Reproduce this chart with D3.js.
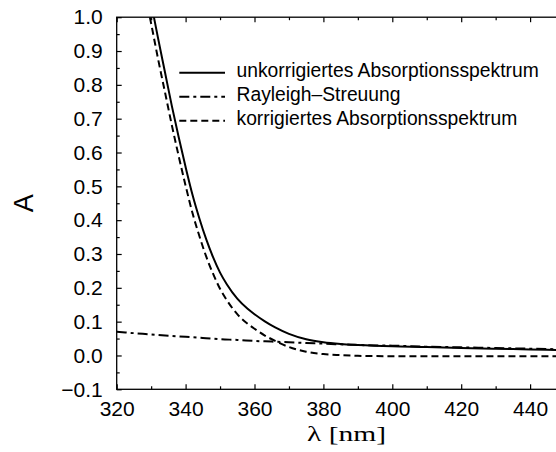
<!DOCTYPE html>
<html>
<head>
<meta charset="utf-8">
<script src="https://cdn.jsdelivr.net/npm/d3@7/dist/d3.min.js"></script>
<style>
  html, body { margin: 0; padding: 0; background: #fff; }
  svg { display: block; }
</style>
</head>
<body>
<svg id="chart" width="556" height="452"></svg>
<script>
// ---- data ----
const wavelengths = [329, 330, 331, 332, 334, 336, 338, 340, 342, 344, 346, 348, 350, 352, 355, 358, 360, 363, 366, 370, 375, 380, 385, 390, 400, 410, 420, 430, 440, 450];
const uncorrected = [1.095, 1.043, 0.990, 0.938, 0.838, 0.738, 0.645, 0.557, 0.475, 0.405, 0.343, 0.290, 0.245, 0.210, 0.168, 0.138, 0.122, 0.101, 0.083, 0.064, 0.048, 0.039, 0.034, 0.031, 0.027, 0.025, 0.022, 0.020, 0.018, 0.016];
const corrected = [1.032, 0.981, 0.929, 0.877, 0.779, 0.681, 0.589, 0.502, 0.421, 0.353, 0.292, 0.241, 0.197, 0.163, 0.122, 0.094, 0.079, 0.059, 0.043, 0.025, 0.011, 0.004, 0.001, -0.001, -0.002, -0.002, -0.002, -0.002, -0.002, -0.002];
const rayleighWavelengths = [320, 325, 330, 335, 340, 345, 350, 355, 360, 365, 370, 375, 380, 390, 400, 410, 420, 430, 440, 450];
const rayleigh = [0.070, 0.066, 0.062, 0.058, 0.055, 0.052, 0.048, 0.046, 0.043, 0.041, 0.039, 0.037, 0.035, 0.031, 0.029, 0.026, 0.024, 0.022, 0.020, 0.018];

const xMajorTicks = [320, 340, 360, 380, 400, 420, 440];
const xMinorTicks = [330, 350, 370, 390, 410, 430, 450];
const yMajorTicks = [-0.1, 0.0, 0.1, 0.2, 0.3, 0.4, 0.5, 0.6, 0.7, 0.8, 0.9, 1.0];
const yMinorTicks = [-0.05, 0.05, 0.15, 0.25, 0.35, 0.45, 0.55, 0.65, 0.75, 0.85, 0.95];

const seriesNames = ["unkorrigiertes Absorptionsspektrum", "Rayleigh\u2013Streuung", "korrigiertes Absorptionsspektrum"];
const xLabel = "\u03bb [nm]";
const yLabel = "A";

// ---- layout ----
const svg = d3.select("#chart");
const plotLeft = 116.7, plotTop = 17.2, plotBottom = 389.3;
const x = d3.scaleLinear().domain([320, 450]).range([plotLeft, plotLeft + 130 * 3.445]);
const y = d3.scaleLinear().domain([-0.1, 1.0]).range([plotBottom, plotTop]);
const plotRight = x(450);

const tickFont = "'Liberation Sans', Arial, Helvetica, sans-serif";

svg.append("defs").append("clipPath").attr("id", "plotclip")
  .append("rect").attr("x", plotLeft).attr("y", plotTop).attr("width", plotRight - plotLeft).attr("height", plotBottom - plotTop);

function styleAxis(g) {
  g.select(".domain").remove();
  g.selectAll(".tick line").attr("stroke", "#000").attr("stroke-width", 1.2);
  g.selectAll("text").attr("fill", "#000").style("font-family", tickFont).style("font-size", "21px");
}

// bottom axis
svg.append("g").attr("transform", `translate(0,${plotBottom})`)
  .call(d3.axisBottom(x).tickValues(xMajorTicks).tickSize(-5).tickPadding(12).tickFormat(d3.format("d")))
  .call(styleAxis);
svg.append("g").attr("transform", `translate(0,${plotBottom})`)
  .call(d3.axisBottom(x).tickValues(xMinorTicks).tickSize(-3).tickFormat(""))
  .call(styleAxis);
// top axis
svg.append("g").attr("transform", `translate(0,${plotTop})`)
  .call(d3.axisTop(x).tickValues(xMajorTicks).tickSize(-5).tickFormat(""))
  .call(styleAxis);
svg.append("g").attr("transform", `translate(0,${plotTop})`)
  .call(d3.axisTop(x).tickValues(xMinorTicks).tickSize(-3).tickFormat(""))
  .call(styleAxis);
// left axis
svg.append("g").attr("transform", `translate(${plotLeft},0)`)
  .call(d3.axisLeft(y).tickValues(yMajorTicks).tickSize(-5).tickPadding(14).tickFormat(d3.format(".1f")))
  .call(styleAxis);
svg.append("g").attr("transform", `translate(${plotLeft},0)`)
  .call(d3.axisLeft(y).tickValues(yMinorTicks).tickSize(-3).tickFormat(""))
  .call(styleAxis);
// right axis
svg.append("g").attr("transform", `translate(${plotRight},0)`)
  .call(d3.axisRight(y).tickValues(yMajorTicks).tickSize(-5).tickFormat(""))
  .call(styleAxis);

// frame
svg.append("rect").attr("x", plotLeft).attr("y", plotTop).attr("width", plotRight - plotLeft).attr("height", plotBottom - plotTop)
  .attr("fill", "none").attr("stroke", "#000").attr("stroke-width", 1.3);

// curves
const line = d3.line().x(d => x(d[0])).y(d => y(d[1])).curve(d3.curveMonotoneX);
const plot = svg.append("g").attr("clip-path", "url(#plotclip)");
const styles = [
  { dash: null },
  { dash: "10,4,3,4" },
  { dash: "7,4" }
];
const seriesData = [
  wavelengths.map((w, i) => [w, uncorrected[i]]),
  rayleighWavelengths.map((w, i) => [w, rayleigh[i]]),
  wavelengths.map((w, i) => [w, corrected[i]])
];
seriesData.forEach((data, i) => {
  plot.append("path").datum(data).attr("d", line)
    .attr("fill", "none").attr("stroke", "#000").attr("stroke-width", 2)
    .attr("stroke-dasharray", styles[i].dash);
});

// legend
const legend = svg.append("g");
seriesNames.forEach((name, i) => {
  const ly = 72.7 + i * 24;
  legend.append("line").attr("x1", 179.3).attr("x2", 225).attr("y1", ly).attr("y2", ly)
    .attr("stroke", "#000").attr("stroke-width", 2).attr("stroke-dasharray", styles[i].dash);
  legend.append("text").attr("x", 236.5).attr("y", ly + 4.6).text(name)
    .style("font-family", tickFont).style("font-size", "19.3px").attr("fill", "#000");
});

// axis labels
svg.append("text").attr("x", 346.5).attr("y", 441).attr("text-anchor", "middle")
  .attr("textLength", 79).attr("lengthAdjust", "spacingAndGlyphs")
  .style("font-family", "'Liberation Serif', 'Times New Roman', serif").style("font-size", "22px")
  .text(xLabel);
svg.append("text").attr("transform", `translate(33,${(plotTop + plotBottom) / 2}) rotate(-90)`)
  .attr("text-anchor", "middle")
  .style("font-family", tickFont).style("font-size", "27px")
  .text(yLabel);
</script>
</body>
</html>
